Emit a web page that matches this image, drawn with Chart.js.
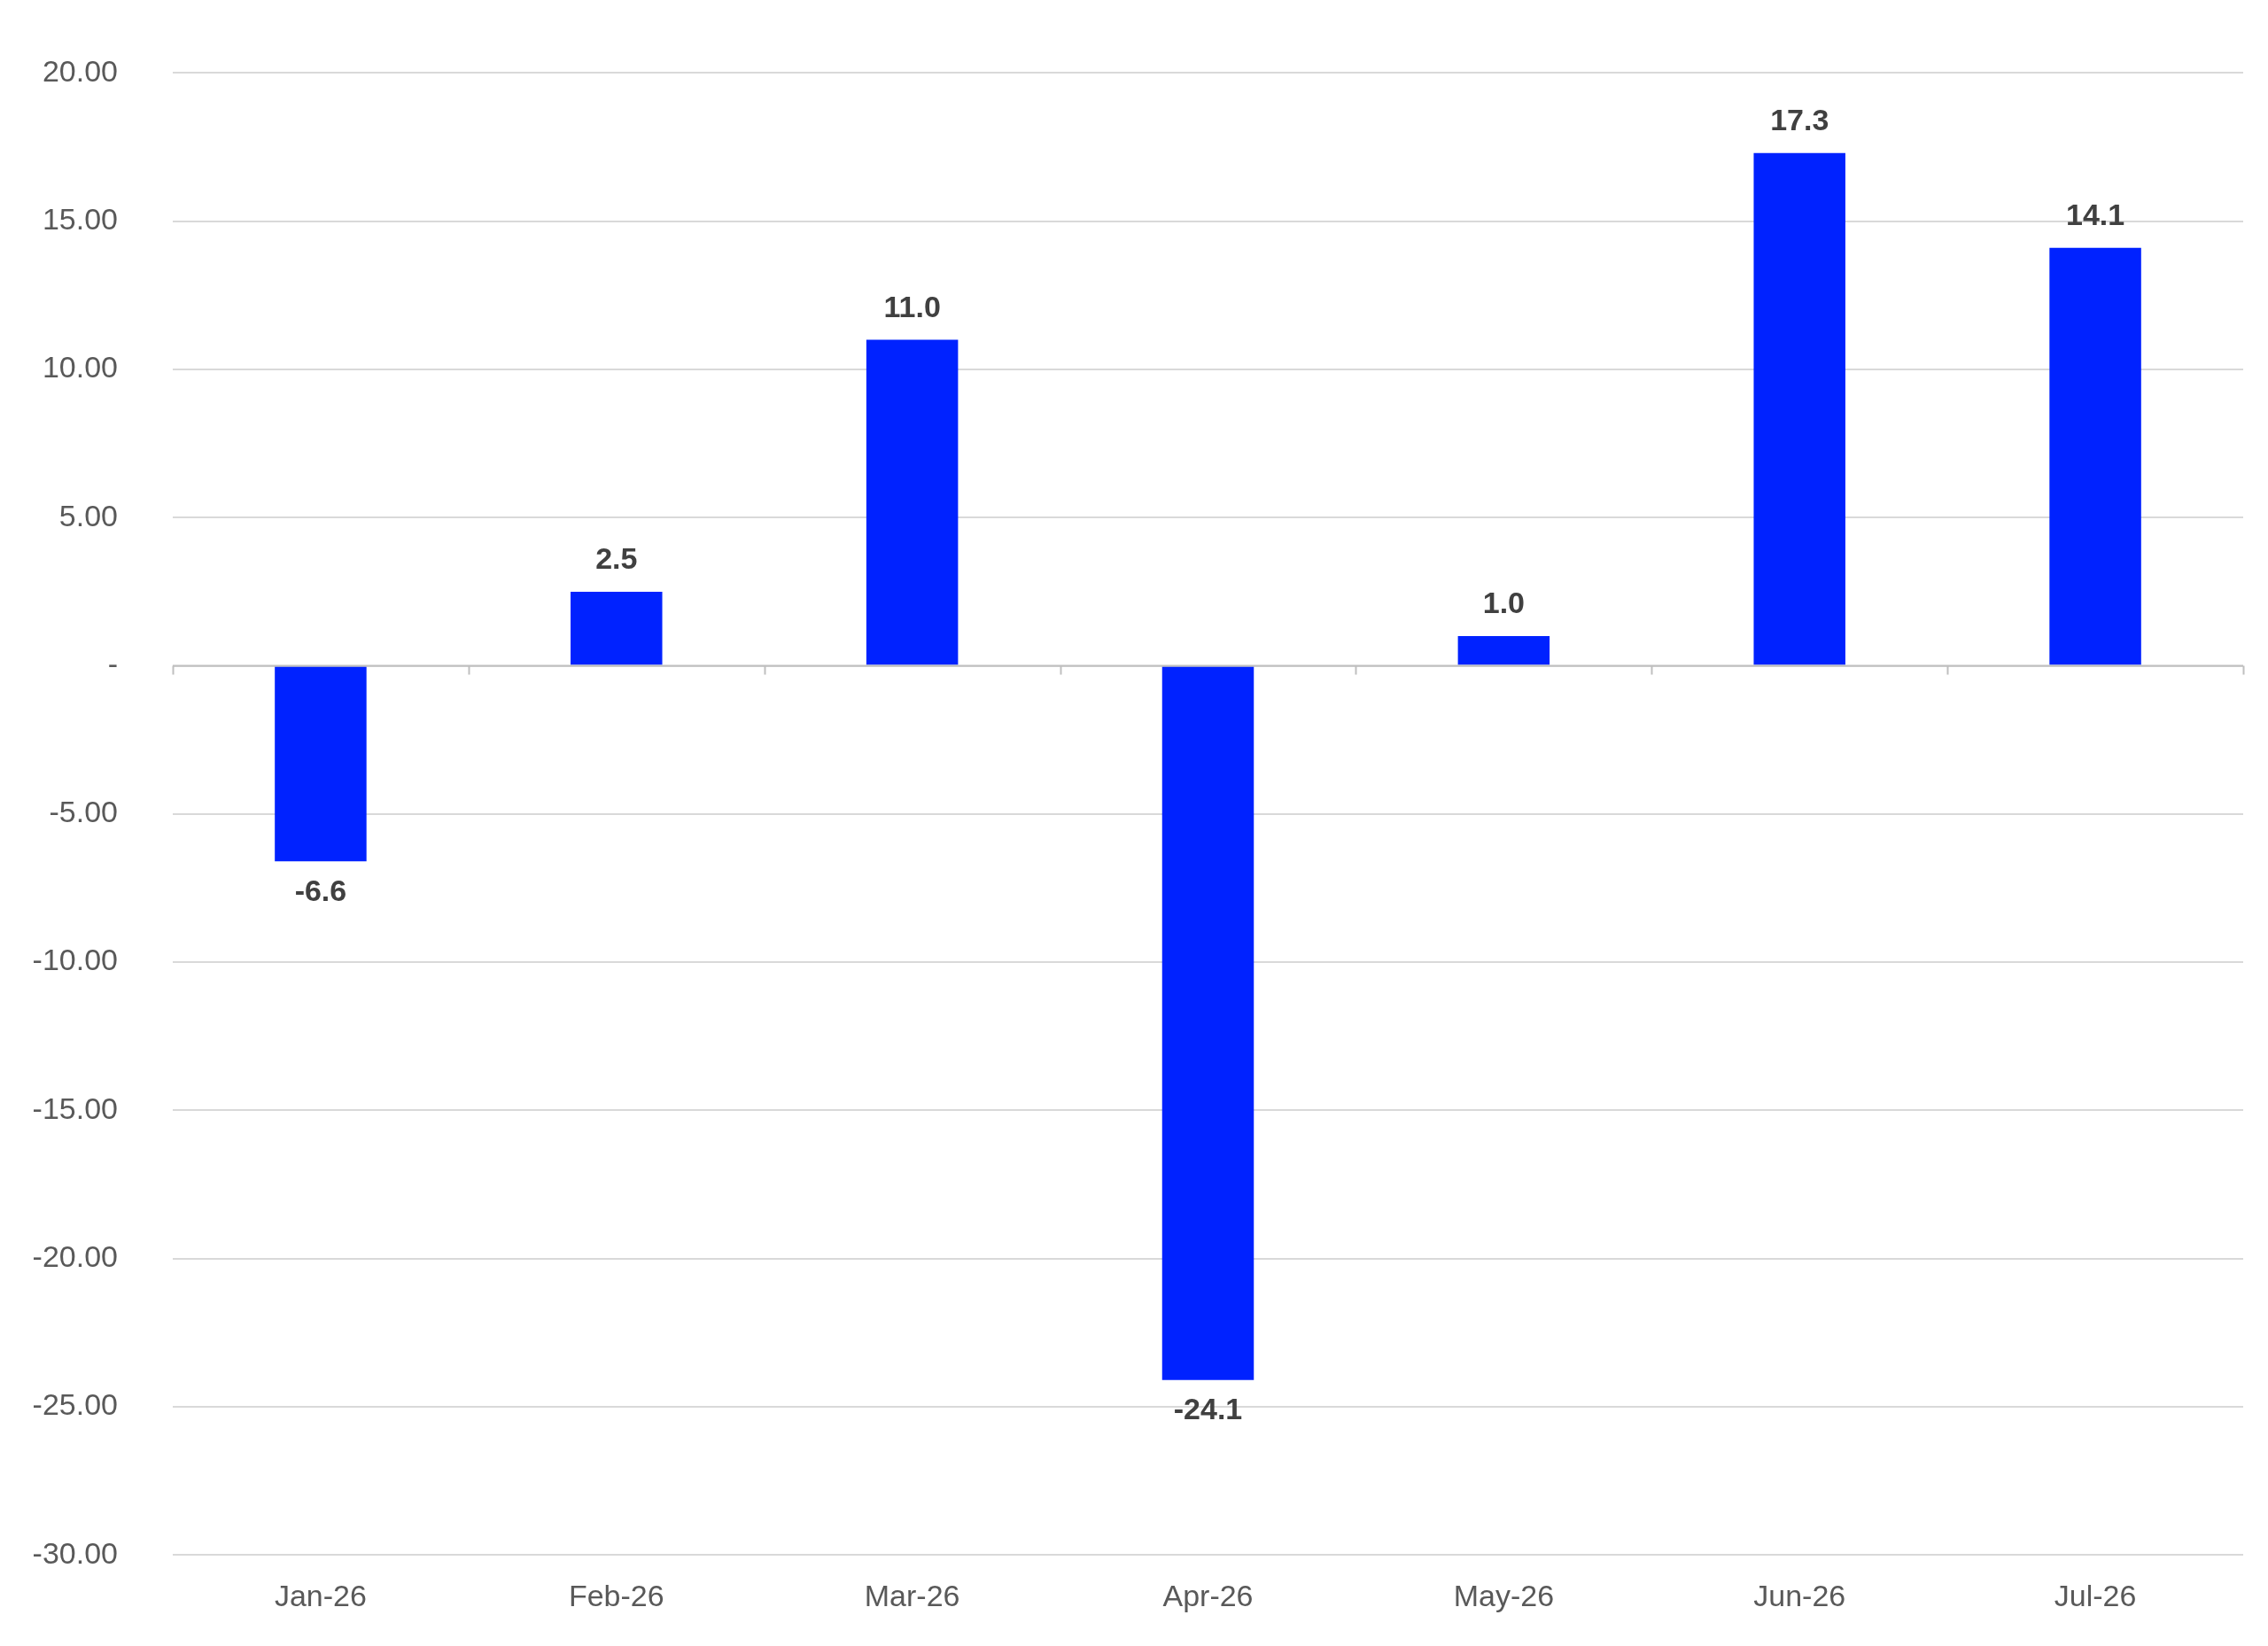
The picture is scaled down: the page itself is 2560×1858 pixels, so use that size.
<!DOCTYPE html>
<html><head><meta charset="utf-8">
<script src="https://cdn.jsdelivr.net/npm/chart.js@4"></script>
<style>html,body{margin:0;padding:0;background:#fff}</style>
</head><body>
<canvas id="c" width="2560" height="1858"></canvas>
<script>
const categories = ["Jan-26","Feb-26","Mar-26","Apr-26","May-26","Jun-26","Jul-26"];
const values = [-6.6, 2.5, 11.0, -24.1, 1.0, 17.3, 14.1];
const yTicks = [20, 15, 10, 5, 0, -5, -10, -15, -20, -25, -30];

const extras = {
  id: 'extras',
  afterDatasetsDraw(chart) {
    const ctx = chart.ctx, x = chart.scales.x, y = chart.scales.y;
    const y0 = y.getPixelForValue(0);
    ctx.save();
    ctx.strokeStyle = '#bfbfbf'; ctx.lineWidth = 2;
    ctx.beginPath(); ctx.moveTo(chart.chartArea.left, y0); ctx.lineTo(chart.chartArea.right, y0); ctx.stroke();
    const w = (chart.chartArea.right - chart.chartArea.left) / categories.length;
    for (let i = 0; i <= categories.length; i++) {
      const px = Math.round(chart.chartArea.left + i * w) + 0.5;
      ctx.beginPath(); ctx.moveTo(px, y0); ctx.lineTo(px, y0 + 10); ctx.stroke();
    }
    ctx.fillStyle = '#404040';
    ctx.font = 'bold 34px "Liberation Sans", Arial, sans-serif';
    ctx.textAlign = 'center';
    const meta = chart.getDatasetMeta(0);
    meta.data.forEach((bar, i) => {
      const v = values[i];
      if (v >= 0) { ctx.textBaseline = 'bottom'; ctx.fillText(v.toFixed(1), bar.x, bar.y - 18); }
      else { ctx.textBaseline = 'top'; ctx.fillText(v.toFixed(1), bar.x, bar.y + 18); }
    });
    ctx.restore();
  }
};

new Chart(document.getElementById('c'), {
  type: 'bar',
  data: { labels: categories, datasets: [{ data: values, backgroundColor: '#0022FF', categoryPercentage: 0.31, barPercentage: 1 }] },
  options: {
    responsive: false, devicePixelRatio: 1, animation: false,
    layout: { padding: { top: 22, right: 28, left: 0, bottom: 14 } },
    plugins: { legend: { display: false }, tooltip: { enabled: false } },
    scales: {
      x: {
        grid: { display: false },
        border: { display: false },
        ticks: { color: '#595959', font: { size: 34, family: '"Liberation Sans", Arial, sans-serif' }, padding: 20 }
      },
      y: {
        min: -30, max: 20,
        afterBuildTicks(s) { s.ticks = yTicks.map(v => ({ value: v })); },
        afterFit(s) { s.width = 195; },
        grid: { color: '#d9d9d9', lineWidth: 2, drawTicks: false },
        border: { display: false },
        ticks: { color: '#595959', padding: 62, font: { size: 34, family: '"Liberation Sans", Arial, sans-serif' },
          callback: v => v === 0 ? '-' : v.toFixed(2) }
      }
    }
  },
  plugins: [extras]
});
</script>
</body></html>
